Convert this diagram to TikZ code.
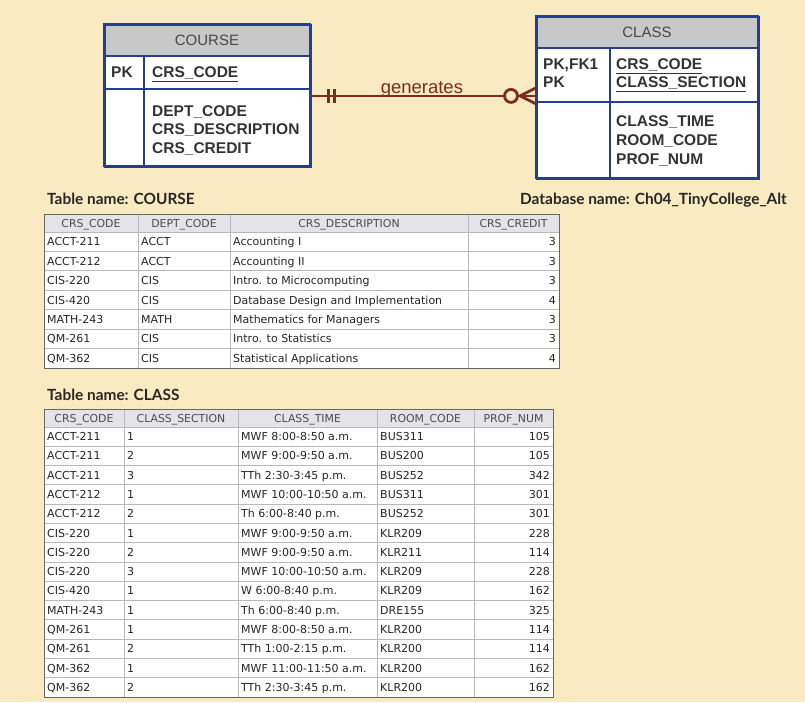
\documentclass[tikz,border=0pt]{standalone}
\usepackage{fontspec}
\setmainfont{Liberation Sans}
\newfontfamily\titlefont{Lato}
\newfontfamily\cellfont{DejaVu Sans}
\usetikzlibrary{calc}
\definecolor{bg}{RGB}{250,234,193}
\definecolor{erblue}{RGB}{35,62,148}
\definecolor{hdrgray}{RGB}{200,200,200}
\definecolor{relc}{RGB}{125,45,32}
\definecolor{grid}{RGB}{185,185,185}
\definecolor{thead}{RGB}{228,228,232}
\begin{document}
\begin{tikzpicture}[x=1pt,y=-1pt,
  erbox/.style={draw=erblue, line width=1.8pt, fill=white, inner sep=0pt, anchor=north west},
  erline/.style={draw=erblue, line width=1.8pt},
  ertitle/.style={font=\fontsize{15}{18}\selectfont, text=black!72, inner sep=0pt},
  erattr/.style={font=\bfseries\fontsize{15.5}{18}\selectfont, text=black!80, inner sep=0pt, anchor=base west},
  gridline/.style={draw=grid, line width=0.8pt},
  tabframe/.style={draw=black!60, line width=0.9pt},
  cell/.style={font=\cellfont\fontsize{11}{12}\selectfont, text=black!85, inner sep=0pt, anchor=base west},
  numcell/.style={cell, anchor=base east},
  headcell/.style={font=\cellfont\fontsize{10.9}{12}\selectfont, text=black!70, inner sep=0pt, anchor=base},
  tname/.style={font=\titlefont\bfseries\fontsize{15.4}{18}\selectfont, text=black!85, inner sep=0pt, anchor=base west},
  rel/.style={draw=relc, line width=2.8pt},
]
\useasboundingbox (0,0) rectangle (805,702);
\fill[bg] (0,0) rectangle (805,702);

% ---------- ER entity COURSE ----------
\node[erbox, minimum width=206pt, minimum height=142pt,
  path picture={\fill[hdrgray] (path picture bounding box.north west) rectangle ([yshift=-32pt]path picture bounding box.north east);}]
  (course) at (104,24) {};
\draw[erline] (104,56) -- (310,56);
\draw[erline] (104,89) -- (310,89);
\draw[erline] (144,56) -- (144,166);
\draw[draw=erblue, line width=1.8pt] (104,24) rectangle (310,166);
\node[ertitle] (courseT) at (207,40) {COURSE};
\node[erattr] (coursePK) at (111,77.5) {PK};
\node[erattr] (courseK1) at (152,77.5) {\underline{CRS\_CODE}};
\node[erattr] (courseA1) at (152,116.5) {DEPT\_CODE};
\node[erattr] (courseA2) at (152,134.8) {CRS\_DESCRIPTION};
\node[erattr] (courseA3) at (152,153.3) {CRS\_CREDIT};

% ---------- ER entity CLASS ----------
\node[erbox, minimum width=222pt, minimum height=162pt,
  path picture={\fill[hdrgray] (path picture bounding box.north west) rectangle ([yshift=-32pt]path picture bounding box.north east);}]
  (class) at (536,16) {};
\draw[erline] (536,48) -- (758,48);
\draw[erline] (536,102) -- (758,102);
\draw[erline] (610,48) -- (610,178);
\draw[draw=erblue, line width=1.8pt] (536,16) rectangle (758,178);
\node[ertitle] (classT) at (647,32) {CLASS};
\node[erattr] (classPK1) at (543,69.5) {PK,FK1};
\node[erattr] (classPK2) at (543,87.5) {PK};
\node[erattr] (classK1) at (616,69.5) {\underline{CRS\_CODE}};
\node[erattr] (classK2) at (616,87.5) {\underline{CLASS\_SECTION}};
\node[erattr] (classA1) at (616,126.5) {CLASS\_TIME};
\node[erattr] (classA2) at (616,145.5) {ROOM\_CODE};
\node[erattr] (classA3) at (616,164.5) {PROF\_NUM};

% ---------- relationship ----------
\coordinate (relA) at (course.east);
\coordinate (relB) at (course.east -| class.west);
\draw[rel] (relA) -- (relB);
\draw[rel] ($(relA)+(17,-7)$) -- ($(relA)+(17,7)$);
\draw[rel] ($(relA)+(23,-7)$) -- ($(relA)+(23,7)$);
\draw[rel] ($(relB)+(-16,0)$) -- ($(relB)+(0,-8)$);
\draw[rel] ($(relB)+(-16,0)$) -- ($(relB)+(0,8)$);
\draw[rel, fill=bg] ($(relB)+(-25,0)$) circle (6.5);
\node[font=\fontsize{18.5}{22}\selectfont, text=relc, inner sep=0pt, anchor=base] (relL) at ($(relA)!0.5!(relB)+(-2,-2)$) {generates};

% ---------- table captions ----------
\node[tname] (tnCourse) at (47,204) {Table name: COURSE};
\node[tname, anchor=base east] (dbName) at (787,204) {Database name: Ch04\_TinyCollege\_Alt};
\node[tname] (tnClass) at (47,400) {Table name: CLASS};

% ---------- COURSE table ----------
\fill[white] (44,214) rectangle (559,368);
\fill[thead] (44,214) rectangle (559,232);
\foreach \x in {138,230,468} \draw[gridline] (\x,214) -- (\x,368);
\foreach \i in {0,...,6} \draw[gridline] (44,{232+19.43*\i}) -- (559,{232+19.43*\i});
\draw[tabframe] (44,214) rectangle (559,368);
\node[headcell] (ch1) at (91,227) {CRS\_CODE};
\node[headcell] (ch2) at (184,227) {DEPT\_CODE};
\node[headcell] (ch3) at (349,227) {CRS\_DESCRIPTION};
\node[headcell] (ch4) at (513.5,227) {CRS\_CREDIT};
\foreach \a/\b/\c/\d [count=\i] in {
  ACCT-211/ACCT/Accounting I/3,
  ACCT-212/ACCT/Accounting II/3,
  CIS-220/CIS/Intro. to Microcomputing/3,
  CIS-420/CIS/Database Design and Implementation/4,
  MATH-243/MATH/Mathematics for Managers/3,
  QM-261/CIS/Intro. to Statistics/3,
  QM-362/CIS/Statistical Applications/4}{
  \node[cell] (ca\i) at (47,{232+19.43*(\i-0.5)+4}) {\a};
  \node[cell] (cb\i) at (141,{232+19.43*(\i-0.5)+4}) {\b};
  \node[cell] (cc\i) at (233,{232+19.43*(\i-0.5)+4}) {\c};
  \node[numcell] (cd\i) at (556,{232+19.43*(\i-0.5)+4}) {\d};
}

% ---------- CLASS table ----------
\fill[white] (44,409) rectangle (553,697);
\fill[thead] (44,409) rectangle (553,427);
\foreach \x in {124,238,377,474} \draw[gridline] (\x,409) -- (\x,697);
\foreach \i in {0,...,13} \draw[gridline] (44,{427+19.286*\i}) -- (553,{427+19.286*\i});
\draw[tabframe] (44,409) rectangle (553,697);
\node[headcell] (kh1) at (84,422) {CRS\_CODE};
\node[headcell] (kh2) at (181,422) {CLASS\_SECTION};
\node[headcell] (kh3) at (307.5,422) {CLASS\_TIME};
\node[headcell] (kh4) at (425.5,422) {ROOM\_CODE};
\node[headcell] (kh5) at (513.5,422) {PROF\_NUM};
\foreach \a/\b/\c/\d/\e [count=\i] in {
  ACCT-211/1/MWF 8:00-8:50 a.m./BUS311/105,
  ACCT-211/2/MWF 9:00-9:50 a.m./BUS200/105,
  ACCT-211/3/TTh 2:30-3:45 p.m./BUS252/342,
  ACCT-212/1/MWF 10:00-10:50 a.m./BUS311/301,
  ACCT-212/2/Th 6:00-8:40 p.m./BUS252/301,
  CIS-220/1/MWF 9:00-9:50 a.m./KLR209/228,
  CIS-220/2/MWF 9:00-9:50 a.m./KLR211/114,
  CIS-220/3/MWF 10:00-10:50 a.m./KLR209/228,
  CIS-420/1/W 6:00-8:40 p.m./KLR209/162,
  MATH-243/1/Th 6:00-8:40 p.m./DRE155/325,
  QM-261/1/MWF 8:00-8:50 a.m./KLR200/114,
  QM-261/2/TTh 1:00-2:15 p.m./KLR200/114,
  QM-362/1/MWF 11:00-11:50 a.m./KLR200/162,
  QM-362/2/TTh 2:30-3:45 p.m./KLR200/162}{
  \node[cell] (ka\i) at (47,{427+19.286*(\i-0.5)+4}) {\a};
  \node[cell] (kb\i) at (127,{427+19.286*(\i-0.5)+4}) {\b};
  \node[cell] (kc\i) at (241,{427+19.286*(\i-0.5)+4}) {\c};
  \node[cell] (kd\i) at (380,{427+19.286*(\i-0.5)+4}) {\d};
  \node[numcell] (ke\i) at (550,{427+19.286*(\i-0.5)+4}) {\e};
}
\end{tikzpicture}
\end{document}
